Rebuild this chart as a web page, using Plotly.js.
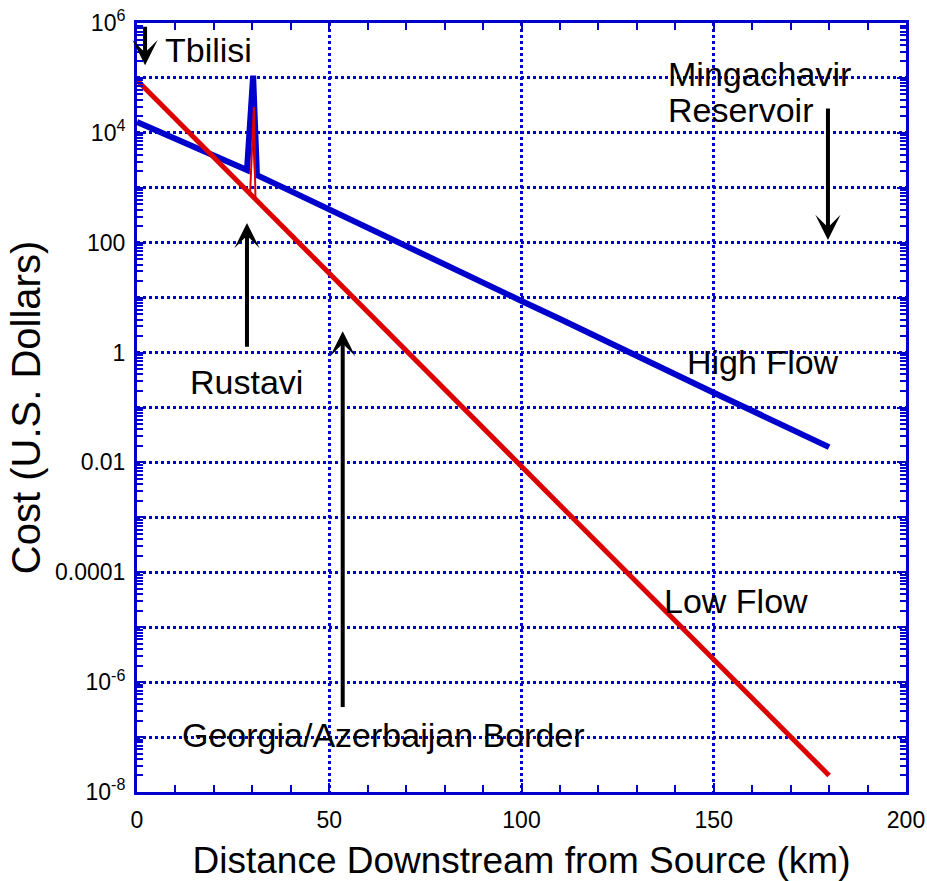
<!DOCTYPE html>
<html>
<head>
<meta charset="utf-8">
<script src="https://cdn.plot.ly/plotly-3.0.1.min.js"></script>
<style>
  html, body { margin: 0; padding: 0; background: #ffffff; }
  #chart { width: 927px; height: 881px; }
</style>
</head>
<body>
<div id="chart"></div>
<script>
// ---- Data ----
// High Flow (blue): distance (km) and cost (US$)
var highFlowX = [0, 10, 20, 28.6, 30.2, 31.2, 40, 50, 60, 70, 80, 90, 100, 110, 120, 130, 140, 150, 160, 170, 180];
var highFlowY = [1.57e4, 7.8e3, 3.8e3, 2.1e3, 1.1e5, 1.7e3, 8.7e2, 4.0e2, 1.86e2, 87, 41, 18.6, 8.7, 4.1, 1.86, 0.87, 0.40, 0.186, 0.087, 0.041, 0.019];

// Low Flow (red): main line
var lowFlowX = [0, 10, 20, 29.4, 30.8, 40, 50, 60, 70, 80, 90, 100, 110, 120, 130, 140, 150, 160, 170, 180];
var lowFlowY = [9.1e4, 1.8e4, 3.5e3, 7.6e2, 6.5e2, 1.45e2, 29, 5.6, 1.1, 0.22, 0.043, 0.0085, 1.66e-3, 3.2e-4, 6.5e-5, 1.26e-5, 2.5e-6, 5.0e-7, 1.0e-7, 2.0e-8];

// Low Flow (red): thin spike at Rustavi
var lowSpikeX = [29.4, 30.4, 30.8];
var lowSpikeY = [7.6e2, 2.95e4, 6.5e2];

// Axis ticks (every decade gets a grid line; only even decades are labelled)
var xTickVals = [0, 50, 100, 150, 200];
var xTickText = ['0', '50', '100', '150', '200'];
var yTickVals = [1e-8, 1e-7, 1e-6, 1e-5, 1e-4, 1e-3, 1e-2, 1e-1, 1, 10, 100, 1e3, 1e4, 1e5, 1e6];
var yTickText = ['10<sup>-8</sup>', '', '10<sup>-6</sup>', '', '0.0001', '', '0.01', '', '1', '', '100', '', '10<sup>4</sup>', '', '10<sup>6</sup>'];

// ---- Styling ----
var BLUE = '#0000cc';
var RED = '#dd0000';
var FONT = 'Liberation Sans, Arial, Helvetica, sans-serif';

var yMinor = [];
for (var e = -8; e < 6; e++) {
  for (var m = 2; m <= 9; m++) { yMinor.push(m * Math.pow(10, e)); }
}

var traces = [
  { x: highFlowX, y: highFlowY, type: 'scatter', mode: 'lines', name: 'High Flow',
    line: { color: BLUE, width: 6 }, hoverinfo: 'x+y' },
  { x: lowFlowX, y: lowFlowY, type: 'scatter', mode: 'lines', name: 'Low Flow',
    line: { color: RED, width: 5 }, hoverinfo: 'x+y' },
  { x: lowSpikeX, y: lowSpikeY, type: 'scatter', mode: 'lines', name: 'Low Flow (Rustavi)',
    line: { color: RED, width: 2 }, hoverinfo: 'x+y' }
];

function arrow(xTip, yTipLog, yTailLog) {
  return { x: xTip, y: yTipLog, ax: xTip, ay: yTailLog, xref: 'x', yref: 'y', axref: 'x', ayref: 'y',
           text: '', showarrow: true, arrowhead: 3, arrowsize: 1.05, arrowwidth: 4,
           arrowcolor: '#000000', standoff: 0, startstandoff: 0 };
}
function label(txt, x, yLog) {
  return { x: x, y: yLog, xref: 'x', yref: 'y', text: txt, showarrow: false,
           xanchor: 'left', yanchor: 'middle', font: { family: FONT, size: 34, color: '#000000' } };
}

var annotations = [
  arrow(2.1, 5.23, 5.96),
  arrow(179.7, 2.05, 4.47),
  arrow(28.6, 2.36, 0.08),
  arrow(53.5, 0.39, -6.48),
  label('Tbilisi', 6.8, 5.50),
  label('Mingachavir', 137.6, 5.07),
  label('Reservoir', 137.6, 4.415),
  label('Rustavi', 13.3, -0.54),
  label('Georgia/Azerbaijan Border', 11.2, -6.96),
  label('High Flow', 142.5, -0.175),
  label('Low Flow', 136.6, -4.53)
];

var axisCommon = {
  ticks: 'inside', ticklen: 9, tickwidth: 2, tickcolor: BLUE,
  showline: true, linecolor: BLUE, linewidth: 3, mirror: 'allticks',
  showgrid: true, gridcolor: BLUE, gridwidth: 3, griddash: 'dot', zeroline: false
};

var layout = {
  width: 927, height: 881,
  margin: { l: 137, r: 21, t: 23, b: 89 },
  paper_bgcolor: '#ffffff', plot_bgcolor: '#ffffff',
  showlegend: false,
  font: { family: FONT, color: '#000000' },
  xaxis: Object.assign({}, axisCommon, {
    range: [0, 200], tickmode: 'array', tickvals: xTickVals, ticktext: xTickText,
    minor: { dtick: 10, tick0: 0, ticks: 'inside', ticklen: 7, tickwidth: 2, tickcolor: BLUE, showgrid: false },
    tickfont: { family: FONT, size: 23, color: '#000000' }, ticklabelstandoff: 5,
    title: { text: 'Distance Downstream from Source (km)', font: { family: FONT, size: 37, color: '#000000' }, standoff: 18 }
  }),
  yaxis: Object.assign({}, axisCommon, {
    type: 'log', range: [-8, 6], tickmode: 'array', tickvals: yTickVals, ticktext: yTickText,
    minor: { tickmode: 'array', tickvals: yMinor, ticks: 'inside', ticklen: 6, tickwidth: 2, tickcolor: BLUE, showgrid: false },
    tickfont: { family: FONT, size: 23, color: '#000000' }, ticklabelstandoff: 4,
    title: { text: 'Cost (U.S. Dollars)', font: { family: FONT, size: 40, color: '#000000' }, standoff: 3 }
  }),
  annotations: annotations
};

Plotly.newPlot('chart', traces, layout, { displayModeBar: false, staticPlot: true });
</script>
</body>
</html>
